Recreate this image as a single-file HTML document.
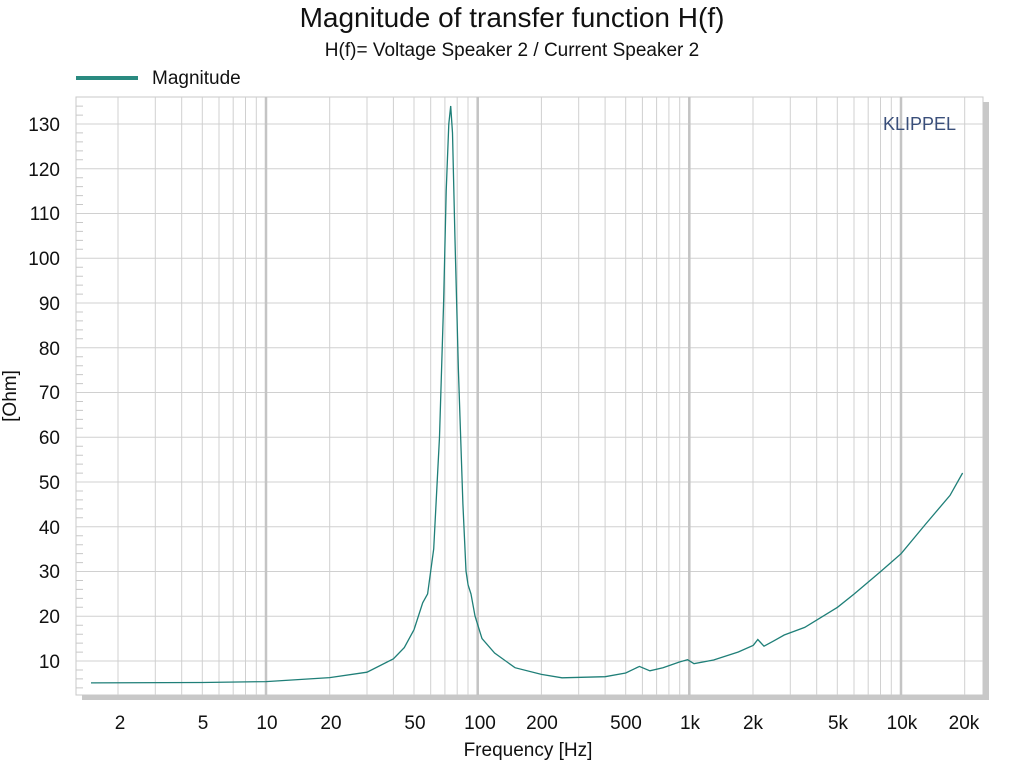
<!DOCTYPE html>
<html><head><style>body{margin:0;background:#fff}svg{display:block}text{font-family:"Liberation Sans",sans-serif;fill:#111}</style></head><body>
<svg width="1024" height="768" viewBox="0 0 1024 768">
<rect x="82" y="102" width="907" height="598" fill="#c8c8c8"/>
<rect x="76" y="97" width="907" height="598" fill="#fff" stroke="#c8c8c8"/>
<g stroke="#d0d0d0" stroke-width="1">
<path d="M118 97V695M155.3 97V695M181.7 97V695M202.3 97V695M219 97V695M233.2 97V695M245.5 97V695M256.3 97V695
M329.7 97V695M367 97V695M393.4 97V695M414 97V695M430.7 97V695M444.9 97V695M457.2 97V695M468 97V695
M541.4 97V695M578.7 97V695M605.1 97V695M625.7 97V695M642.4 97V695M656.6 97V695M668.9 97V695M679.7 97V695
M753 97V695M790.3 97V695M816.7 97V695M837.3 97V695M854 97V695M868.2 97V695M880.5 97V695M891.3 97V695M964.7 97V695
M76 661H983M76 616.3H983M76 571.5H983M76 526.8H983M76 482H983M76 437.3H983M76 392.5H983M76 347.8H983M76 303H983M76 258.3H983M76 213.5H983M76 168.8H983M76 124H983"/>
</g>
<g stroke="#c4c4c4" stroke-width="2.5"><path d="M266 97V695M477.7 97V695M689.3 97V695M901 97V695"/></g>
<g stroke="#c8c8c8" stroke-width="1">
<path d="M76 106.1h7M76 115.1h7M76 132.9h7M76 141.9h7M76 150.9h7M76 159.8h7M76 177.7h7M76 186.6h7M76 195.6h7M76 204.5h7M76 222.5h7M76 231.4h7M76 240.4h7M76 249.3h7M76 267.2h7M76 276.2h7M76 285.1h7M76 294.1h7M76 312h7M76 320.9h7M76 329.9h7M76 338.8h7M76 356.7h7M76 365.7h7M76 374.6h7M76 383.6h7M76 401.5h7M76 410.4h7M76 419.4h7M76 428.3h7M76 446.2h7M76 455.2h7M76 464.1h7M76 473.1h7M76 491h7M76 499.9h7M76 508.9h7M76 517.8h7M76 535.7h7M76 544.7h7M76 553.6h7M76 562.6h7M76 580.5h7M76 589.4h7M76 598.4h7M76 607.3h7M76 625.2h7M76 634.2h7M76 643.1h7M76 652.1h7M76 670h7M76 678.9h7M76 687.9h7"/>
</g>
<polyline fill="none" stroke="#1f7f78" stroke-width="1.3" points="91,682.9 202.3,682.5 266,681.6 329.7,677.6 367,672.2 393.4,658.8 404.3,647.6 414,629.7 422.7,602.8 427.6,593.9 433.7,549 439.5,437 443.6,303 446.2,191 448.8,124 450.7,106 452.5,133 454.9,236 458.4,370 462.9,504 466,571 468.1,585 471,594 475,616 482,638.6 494.6,653 515,667.7 541.4,674.4 562,677.8 605.2,676.7 625.7,673 639.4,666.4 649.9,670.8 663,667.7 679.8,661.9 687.6,659.7 694,663.7 713.6,660 738.3,652 753.3,645.3 757.8,639.5 764,646.2 773.7,640.9 784.2,635 804.7,627.4 837.5,607.3 854.3,593.9 880.7,571.5 901.2,553.6 925.3,524.5 950,495.4 962.6,473"/>
<text x="512" y="27" font-size="28" text-anchor="middle">Magnitude of transfer function H(f)</text>
<text x="512" y="56" font-size="19" text-anchor="middle">H(f)= Voltage Speaker 2 / Current Speaker 2</text>
<rect x="76" y="76" width="62" height="4" fill="#2a8a80"/>
<text x="152" y="84" font-size="19">Magnitude</text>
<text x="883" y="130" font-size="18" style="fill:#3a4f7a">KLIPPEL</text>
<g font-size="19" text-anchor="end">
<text x="60" y="668">10</text><text x="60" y="623">20</text><text x="60" y="578">30</text><text x="60" y="534">40</text><text x="60" y="489">50</text><text x="60" y="444">60</text><text x="60" y="399">70</text><text x="60" y="355">80</text><text x="60" y="310">90</text><text x="60" y="265">100</text><text x="60" y="220">110</text><text x="60" y="176">120</text><text x="60" y="131">130</text>
</g>
<g font-size="19" text-anchor="middle">
<text x="120" y="729">2</text><text x="203" y="729">5</text><text x="267" y="729">10</text><text x="331" y="729">20</text><text x="415" y="729">50</text><text x="480" y="729">100</text><text x="542" y="729">200</text><text x="626" y="729">500</text><text x="690" y="729">1k</text><text x="753" y="729">2k</text><text x="838" y="729">5k</text><text x="902" y="729">10k</text><text x="964" y="729">20k</text>
</g>
<text x="528" y="756" font-size="19" text-anchor="middle">Frequency [Hz]</text>
<text transform="translate(16,396) rotate(-90)" font-size="19" text-anchor="middle">[Ohm]</text>
</svg>
</body></html>
